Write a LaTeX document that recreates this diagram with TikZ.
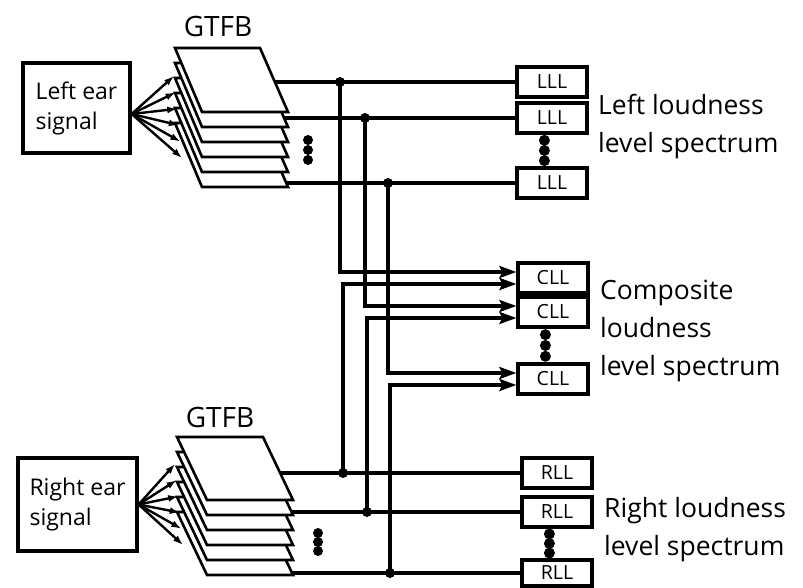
\documentclass[tikz,border=0pt]{standalone}
\usepackage{fontspec}
\setmainfont{Open Sans}
\usetikzlibrary{arrows.meta,positioning,calc}

\begin{document}
\begin{tikzpicture}[x=1pt,y=-1pt,line width=3.2pt,
  ear/.style={draw, align=left, inner sep=0pt, font=\fontsize{23}{30}\selectfont},
  band/.style={draw, minimum width=70pt, minimum height=30pt, inner sep=0pt,
               font=\fontsize{19.5}{19.5}\selectfont},
  spec/.style={align=left, inner sep=0pt, font=\fontsize{26.5}{38}\selectfont},
  gtfb/.style={font=\fontsize{28}{28}\selectfont},
  plate/.style={draw, fill=white, line width=2.6pt},
  fan/.style={-{Latex[length=10pt,width=7pt]}, line width=2.4pt},
  tocll/.style={-{Stealth[length=17pt,width=12pt,inset=3pt]}},
  jn/.style={circle, fill, inner sep=0pt, minimum size=10pt}]
  \useasboundingbox (0,0) rectangle (803,588);

  % ears
  \node[ear, minimum width=107pt, minimum height=90pt] (lear) at (76.5,108) {Left ear\\signal};
  \node[ear, minimum width=119pt, minimum height=93pt] (rear) at (77.5,504.5) {Right ear\\signal};
  \node[gtfb] (lgtfb) at (218,27) {GTFB};
  \node[gtfb] (rgtfb) at (220,417) {GTFB};

  % filter banks
  \foreach \i in {5,...,0}
    \draw[plate] (175,{48+15*\i}) -- (260,{48+15*\i}) -- (288,{112+15*\i}) -- (202,{112+15*\i}) -- cycle;
  \foreach \i in {5,...,0}
    \draw[plate] (177,{437+15*\i}) -- (263,{437+15*\i}) -- (293,{500+15*\i}) -- (207,{500+15*\i}) -- cycle;

  \coordinate (lfan) at ([yshift=-6pt]lear.east);
  \foreach \i in {0,...,5} {
    \draw[fan] (lfan) -- ({174+1.6*\i},{76+16.4*\i});
    \draw[fan] (rear.east) -- ({175+1.6*\i},{464+16.2*\i});
  }
  \foreach \y in {140,150,160} \fill (308,\y) circle (5pt);
  \foreach \y in {533,542,551} \fill (318,\y) circle (5pt);

  % loudness level boxes
  \node[band] (lll1) at (552,82) {LLL};
  \node[band] (lll2) at (552,118) {LLL};
  \node[band] (lll3) at (552,183) {LLL};
  \node[band] (cll1) at (553,278) {CLL};
  \node[band] (cll2) at (553,312) {CLL};
  \node[band] (cll3) at (553,379) {CLL};
  \node[band] (rll1) at (557,473) {RLL};
  \node[band] (rll2) at (557,512) {RLL};
  \node[band, minimum height=26pt] (rll3) at (557,573) {RLL};

  \foreach \a/\b in {lll2/lll3,cll2/cll3,rll2/rll3}
    \foreach \f in {0.18,0.5,0.82}
      \fill ($(\a.south west)!\f!(\b.north west)+(29,0)$) circle (5.5pt);

  \node[spec, right=8pt of lll2, yshift=-9pt] (lspec) {Left loudness\\level spectrum};
  \node[spec, right=9pt of cll2, yshift=-19pt] (cspec) {Composite\\loudness\\level spectrum};
  \node[spec, right=9pt of rll2, yshift=-18pt] (rspec) {Right loudness\\level spectrum};

  % outputs of the banks
  \coordinate (lo1) at (275,82);
  \coordinate (lo2) at (284,118);
  \coordinate (lo3) at (286,183);
  \coordinate (ro1) at (281,473);
  \coordinate (ro2) at (291,512);
  \coordinate (ro3) at (293,573);
  \draw (lo1) -- (lll1);
  \draw (lo2) -- (lll2);
  \draw (lo3) -- (lll3);
  \draw (ro1) -- (rll1);
  \draw (ro2) -- (rll2);
  \draw (ro3) -- (rll3);

  % junctions to the composite
  \node[jn] (lj1) at (340,82) {};
  \node[jn] (lj2) at (365,118) {};
  \node[jn] (lj3) at (388,183) {};
  \node[jn] (rj1) at (343,473) {};
  \node[jn] (rj2) at (367,512) {};
  \node[jn] (rj3) at (390,573) {};
  \draw[tocll] (lj1.center) |- ([yshift=6pt]cll1.west);
  \draw[tocll] (rj1.center) |- ([yshift=-6pt]cll1.west);
  \draw[tocll] (lj2.center) |- ([yshift=6pt]cll2.west);
  \draw[tocll] (rj2.center) |- ([yshift=-6pt]cll2.west);
  \draw[tocll] (lj3.center) |- ([yshift=6pt]cll3.west);
  \draw[tocll] (rj3.center) |- ([yshift=-6pt]cll3.west);
\end{tikzpicture}
\end{document}
